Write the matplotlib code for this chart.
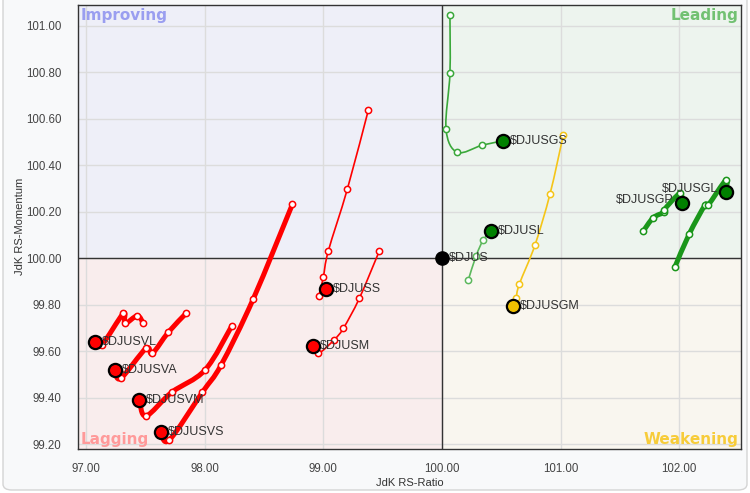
import matplotlib
matplotlib.use("Agg")
import matplotlib.pyplot as plt
from matplotlib.patches import Rectangle, FancyBboxPatch, PathPatch
from matplotlib.path import Path

plt.rcParams['text.parse_math'] = False
plt.rcParams['font.family'] = ['Liberation Sans', 'DejaVu Sans']

# ---------------- data (tail -> head) ----------------
djusvl_x = [97.481, 97.431, 97.327, 97.313, 97.131, 97.074]
djusvl_y = [99.720, 99.753, 99.720, 99.763, 99.627, 99.640]

djusva_x = [97.841, 97.692, 97.557, 97.504, 97.291, 97.243]
djusva_y = [99.763, 99.682, 99.591, 99.613, 99.484, 99.520]

djusvm_x = [98.227, 98.002, 97.721, 97.504, 97.448]
djusvm_y = [99.709, 99.520, 99.424, 99.322, 99.391]

djusvs_x = [98.738, 98.409, 98.137, 97.979, 97.701, 97.631]
djusvs_y = [100.232, 99.826, 99.541, 99.424, 99.219, 99.252]

djuss_x = [99.379, 99.202, 99.041, 98.999, 98.965, 99.022]
djuss_y = [100.638, 100.298, 100.031, 99.918, 99.838, 99.868]

djusm_x = [99.471, 99.303, 99.168, 99.089, 98.957, 98.915]
djusm_y = [100.031, 99.828, 99.699, 99.649, 99.591, 99.624]

djusgs_x = [100.067, 100.067, 100.034, 100.129, 100.340, 100.517]
djusgs_y = [101.046, 100.796, 100.556, 100.456, 100.487, 100.505]

djusl_x = [100.222, 100.287, 100.348, 100.413]
djusl_y = [99.907, 100.010, 100.079, 100.117]

djusgm_x = [101.023, 100.911, 100.784, 100.652, 100.624, 100.601]
djusgm_y = [100.530, 100.277, 100.057, 99.889, 99.828, 99.796]

djusgl_x = [101.965, 102.085, 102.218, 102.245, 102.395, 102.395]
djusgl_y = [99.964, 100.105, 100.229, 100.229, 100.337, 100.286]

djusgp_x = [101.697, 101.782, 101.874, 101.872, 102.007, 102.021]
djusgp_y = [100.117, 100.175, 100.198, 100.208, 100.280, 100.237]

djus_x = [100.0]
djus_y = [100.0]

names = ["$DJUSVL", "$DJUSVA", "$DJUSVM", "$DJUSVS", "$DJUSS", "$DJUSM",
         "$DJUSGS", "$DJUSL", "$DJUSGM", "$DJUSGL", "$DJUSGP"]

x_ticks = [97, 98, 99, 100, 101, 102]
y_ticks = [99.2, 99.4, 99.6, 99.8, 100.0, 100.2, 100.4, 100.6, 100.8, 101.0]

# ---------------- styles ----------------
RED = "#ff0000"
GREEN_T = "#1a961a"
GREEN_S = "#3aa83a"
GREEN_L = "#5cb85c"
YEL = "#f5c518"

series = [
    (djusvl_x, djusvl_y, RED, 3.6, RED, "right"),
    (djusva_x, djusva_y, RED, 3.6, RED, "right"),
    (djusvm_x, djusvm_y, RED, 3.6, RED, "right"),
    (djusvs_x, djusvs_y, RED, 3.6, RED, "right"),
    (djuss_x, djuss_y, RED, 1.2, RED, "right"),
    (djusm_x, djusm_y, RED, 1.2, RED, "right"),
    (djusgs_x, djusgs_y, GREEN_S, 1.2, "#008000", "right"),
    (djusl_x, djusl_y, GREEN_L, 1.2, "#008000", "right"),
    (djusgm_x, djusgm_y, YEL, 1.2, "#f0c000", "right"),
    (djusgl_x, djusgl_y, GREEN_T, 3.6, "#008000", "left"),
    (djusgp_x, djusgp_y, GREEN_T, 3.6, "#008000", "left"),
]


def spline_path(xs, ys):
    """Smooth (Catmull-Rom style) Bezier path through the given points."""
    pts = list(zip(xs, ys))
    n = len(pts)
    verts = [pts[0]]
    codes = [Path.MOVETO]
    for i in range(n - 1):
        p0 = pts[i - 1] if i > 0 else pts[i]
        p1 = pts[i]
        p2 = pts[i + 1]
        p3 = pts[i + 2] if i + 2 < n else pts[i + 1]
        c1 = (p1[0] + (p2[0] - p0[0]) / 6.0, p1[1] + (p2[1] - p0[1]) / 6.0)
        c2 = (p2[0] - (p3[0] - p1[0]) / 6.0, p2[1] - (p3[1] - p1[1]) / 6.0)
        verts += [c1, c2, p2]
        codes += [Path.CURVE4] * 3
    return Path(verts, codes)


W, H = 750, 493
fig = plt.figure(figsize=(W / 100, H / 100), dpi=100)
fig.patch.set_facecolor("white")
bg = FancyBboxPatch((3 / W, 3 / H), 744 / W, 1.2,
                    boxstyle="round,pad=0,rounding_size=0.012",
                    transform=fig.transFigure, facecolor="#f8f9fa",
                    edgecolor="#d4d4d4", linewidth=1.0, zorder=-10)
fig.patches.append(bg)

ax = fig.add_axes([78.3 / W, 1 - 449 / H, (740.7 - 78.3) / W, (449 - 4.7) / H])
ax.set_zorder(5)
x0, x1 = 96.933, 102.519
y0, y1 = 99.180, 101.091
ax.set_xlim(x0, x1)
ax.set_ylim(y0, y1)
ax.set_facecolor("white")

# quadrant backgrounds
ax.add_patch(Rectangle((x0, 100), 100 - x0, y1 - 100, facecolor="#eeeff8", edgecolor="none", zorder=0))
ax.add_patch(Rectangle((100, 100), x1 - 100, y1 - 100, facecolor="#edf4ee", edgecolor="none", zorder=0))
ax.add_patch(Rectangle((x0, y0), 100 - x0, 100 - y0, facecolor="#f9eded", edgecolor="none", zorder=0))
ax.add_patch(Rectangle((100, y0), x1 - 100, 100 - y0, facecolor="#f9f6ef", edgecolor="none", zorder=0))

ax.set_axisbelow(True)
ax.grid(True, color="#dcdcdc", linewidth=1.0)
ax.axhline(100, color="#333333", linewidth=1.0, zorder=1)
ax.axvline(100, color="#333333", linewidth=1.0, zorder=1)

for s in ax.spines.values():
    s.set_color("#333333")
    s.set_linewidth(1.0)

ax.set_xticks(x_ticks)
ax.set_xticklabels([f"{v:.2f}" for v in x_ticks])
ax.set_yticks(y_ticks)
ax.set_yticklabels([f"{v:.2f}" for v in y_ticks])
ax.tick_params(axis="both", length=0, labelsize=8.3, labelcolor="#444444")
ax.tick_params(axis="y", pad=12)
ax.tick_params(axis="x", pad=10)
ax.set_xlabel("JdK RS-Ratio", fontsize=8, color="#333333", labelpad=2.5)
ax.set_ylabel("JdK RS-Momentum", fontsize=8, color="#333333", labelpad=1)

qfont = dict(fontsize=11, fontweight="bold", family="DejaVu Sans", zorder=1.5)
ax.annotate("Improving", xy=(0, 1), xycoords="axes fraction", xytext=(1.5, -2.5),
            textcoords="offset points", ha="left", va="top", color="#9a9ef0", **qfont)
ax.annotate("Leading", xy=(1, 1), xycoords="axes fraction", xytext=(-1.5, -2.5),
            textcoords="offset points", ha="right", va="top", color="#72c172", **qfont)
ax.annotate("Lagging", xy=(0, 0), xycoords="axes fraction", xytext=(1.5, 1.5),
            textcoords="offset points", ha="left", va="bottom", color="#ff9a9a", **qfont)
ax.annotate("Weakening", xy=(1, 0), xycoords="axes fraction", xytext=(-1.5, 1.5),
            textcoords="offset points", ha="right", va="bottom", color="#f7cc3a", **qfont)

for name, (xs, ys, col, lw, head, side) in zip(names, series):
    ax.add_patch(PathPatch(spline_path(xs, ys), facecolor="none", edgecolor=col,
                           linewidth=lw, capstyle="round", joinstyle="round", zorder=2))
    ax.plot(xs[:-1], ys[:-1], linestyle="none", marker="o", markersize=4.5,
            markerfacecolor="white", markeredgecolor=col, markeredgewidth=1.1, zorder=3)
    ax.plot(xs[-1:], ys[-1:], linestyle="none", marker="o", markersize=9.5,
            markerfacecolor=head, markeredgecolor="black", markeredgewidth=1.6, zorder=5)
    if side == "right":
        ax.annotate(name, xy=(xs[-1], ys[-1]), xytext=(5, 0), textcoords="offset points",
                    ha="left", va="center", fontsize=9, color="#333333", zorder=4)
    else:
        ax.annotate(name, xy=(xs[-1], ys[-1]), xytext=(-6, 2), textcoords="offset points",
                    ha="right", va="center", fontsize=9, color="#333333", zorder=4)

ax.plot(djus_x, djus_y, linestyle="none", marker="o", markersize=9.5,
        markerfacecolor="black", markeredgecolor="black", zorder=5)
ax.annotate("$DJUS", xy=(djus_x[0], djus_y[0]), xytext=(5, 0), textcoords="offset points",
            ha="left", va="center", fontsize=9, color="#333333", zorder=4)

fig.savefig("out.png", dpi=100)
